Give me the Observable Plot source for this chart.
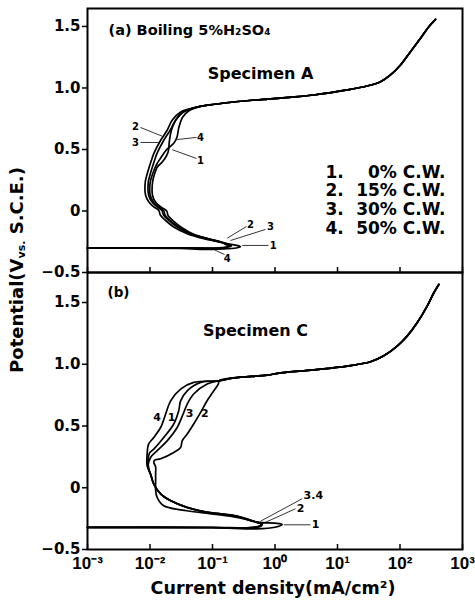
<!DOCTYPE html>
<html><head><meta charset="utf-8">
<script src="https://cdn.jsdelivr.net/npm/d3@7"></script>
<script src="https://cdn.jsdelivr.net/npm/@observablehq/plot@0.6"></script>
<style>
body{margin:0;background:#fff;}
#wrap{position:relative;width:475px;height:601px;font-family:"DejaVu Sans",sans-serif;font-weight:bold;color:#000;overflow:hidden;}
#wrap svg{position:absolute;left:0;overflow:visible;background:transparent;}
.ytitle{position:absolute;left:-183px;top:259px;width:400px;height:22px;line-height:22px;text-align:center;transform:rotate(-90deg);font-size:18px;white-space:nowrap;}
.xtitle{position:absolute;left:73px;top:577px;width:400px;height:22px;line-height:22px;text-align:center;font-size:17.5px;white-space:nowrap;}
sub{font-size:11px;vertical-align:-2px;}
</style></head>
<body><div id="wrap"></div>
<script>
// ---- axis ticks ----
const xTicks = [1e-3, 1e-2, 1e-1, 1, 10, 100, 1000];
const xTickLabels = ["10⁻³", "10⁻²", "10⁻¹", "10⁰", "10¹", "10²", "10³"];
const yTicks = [-0.5, 0, 0.5, 1.0, 1.5];
const yTickLabels = ["−0.5", "0", "0.5", "1.0", "1.5"];

// ---- legend (panel a) ----
const legendNums = ["1.", "2.", "3.", "4."];
const legendText = ["0% C.W.", "15% C.W.", "30% C.W.", "50% C.W."];

// ---- panel (a) Specimen A : [current density mA/cm2, potential V] ----
const aTop = [[0.083,0.86],[0.22,0.886],[0.76,0.91],[1.22,0.918],[4.18,0.943],[14.3,0.984],[29.9,1.016],[48.8,1.051],[70.5,1.106],[102,1.187],[147,1.295],[213,1.404],[289,1.498],[370,1.558]];
const a1 = [[0.001,-0.300],[0.05,-0.302],[0.15,-0.308],[0.24,-0.301],[0.28,-0.291],[0.24,-0.279],[0.17,-0.267],[0.15,-0.260],[0.09,-0.229],[0.05,-0.19],[0.032,-0.134],[0.0235,-0.08],[0.0195,-0.039],[0.0185,0.0],[0.0152,0.029],[0.0124,0.069],[0.011,0.124],[0.011,0.236],[0.0118,0.30],[0.0132,0.36],[0.0148,0.385],[0.017,0.42],[0.0195,0.48],[0.0205,0.575],[0.022,0.656],[0.0257,0.737],[0.034,0.805],[0.058,0.846]];
const a2 = [[0.001,-0.300],[0.03,-0.300],[0.1,-0.303],[0.16,-0.297],[0.2,-0.283],[0.175,-0.266],[0.14,-0.252],[0.08,-0.222],[0.043,-0.183],[0.027,-0.128],[0.0198,-0.074],[0.0165,-0.033],[0.0155,0.005],[0.0129,0.035],[0.0107,0.075],[0.0095,0.13],[0.0094,0.236],[0.0101,0.30],[0.0118,0.41],[0.0129,0.466],[0.0166,0.575],[0.021,0.656],[0.0257,0.737],[0.034,0.805],[0.058,0.846]];
const a3 = [[0.001,-0.300],[0.02,-0.300],[0.08,-0.302],[0.14,-0.298],[0.19,-0.285],[0.17,-0.268],[0.134,-0.254],[0.0726,-0.225],[0.0394,-0.184],[0.024,-0.13],[0.0177,-0.076],[0.0147,-0.035],[0.0138,0.005],[0.0115,0.033],[0.0096,0.073],[0.0085,0.128],[0.0084,0.236],[0.009,0.30],[0.0105,0.41],[0.0115,0.466],[0.0148,0.575],[0.0188,0.656],[0.0226,0.737],[0.031,0.805],[0.058,0.846]];
const a4 = [[0.001,-0.302],[0.03,-0.305],[0.1,-0.312],[0.15,-0.302],[0.18,-0.286],[0.16,-0.27],[0.145,-0.258],[0.085,-0.227],[0.046,-0.187],[0.029,-0.132],[0.021,-0.078],[0.0175,-0.037],[0.0165,0.003],[0.0138,0.031],[0.0114,0.071],[0.0101,0.126],[0.0101,0.236],[0.011,0.30],[0.0128,0.38],[0.0148,0.43],[0.0185,0.50],[0.024,0.55],[0.027,0.60],[0.029,0.68],[0.033,0.76],[0.042,0.815],[0.065,0.85]];

// ---- panel (b) Specimen C ----
const bTop = [[0.126,0.866],[0.22,0.89],[0.75,0.912],[1.22,0.93],[4.18,0.955],[14.3,0.985],[33.7,1.02],[55,1.068],[90,1.147],[130,1.228],[188,1.336],[272,1.471],[348,1.579],[418,1.646]];
const b1 = [[0.001,-0.322],[0.1,-0.323],[0.5,-0.333],[1.0,-0.32],[1.3,-0.297],[1.0,-0.287],[0.52,-0.279],[0.248,-0.232],[0.14,-0.214],[0.082,-0.20],[0.039,-0.16],[0.0213,-0.105],[0.0148,-0.051],[0.0115,0.03],[0.0105,0.09],[0.0096,0.15],[0.0093,0.22],[0.0098,0.28],[0.0115,0.313],[0.0166,0.407],[0.024,0.516],[0.0288,0.623],[0.0309,0.704],[0.0394,0.785],[0.0646,0.853]];
const b2 = [[0.001,-0.321],[0.1,-0.322],[0.4,-0.325],[0.56,-0.312],[0.6,-0.292],[0.52,-0.282],[0.248,-0.24],[0.104,-0.213],[0.039,-0.186],[0.0166,-0.146],[0.013,-0.078],[0.0123,-0.02],[0.0123,0.05],[0.0123,0.12],[0.0123,0.17],[0.0115,0.205],[0.0118,0.222],[0.0148,0.235],[0.024,0.286],[0.0309,0.326],[0.0327,0.38],[0.0394,0.435],[0.05,0.516],[0.0646,0.61],[0.082,0.704],[0.105,0.785],[0.125,0.845]];
const b3 = [[0.001,-0.321],[0.1,-0.322],[0.4,-0.322],[0.58,-0.308],[0.6,-0.29],[0.52,-0.28],[0.248,-0.232],[0.14,-0.213],[0.082,-0.199],[0.039,-0.159],[0.0213,-0.104],[0.0148,-0.05],[0.0115,0.03],[0.0102,0.111],[0.0093,0.17],[0.0102,0.245],[0.013,0.30],[0.0188,0.38],[0.0272,0.488],[0.0339,0.597],[0.0394,0.678],[0.05,0.759],[0.082,0.84]];
const b4 = [[0.001,-0.321],[0.1,-0.322],[0.4,-0.323],[0.6,-0.31],[0.62,-0.292],[0.52,-0.28],[0.248,-0.230],[0.14,-0.212],[0.082,-0.198],[0.039,-0.158],[0.0213,-0.103],[0.0148,-0.049],[0.0115,0.03],[0.0102,0.111],[0.009,0.178],[0.009,0.273],[0.0095,0.353],[0.0115,0.407],[0.0148,0.488],[0.0178,0.597],[0.0214,0.704],[0.0309,0.799],[0.05,0.853]];

// ---- curve annotations (data coordinates) ----
const aNoteText = ["2","3","4","1","2","3","1","4"];
const aNoteX = [0.00586,0.00586,0.0643,0.0643,0.405,0.847,0.936,0.172];
const aNoteY = [0.681,0.551,0.595,0.411,-0.110,-0.132,-0.280,-0.389];
const aLeadX1 = [0.00705,0.00705,0.0555,0.0555,0.35,0.705,0.787,0.156];
const aLeadY1 = [0.679,0.557,0.598,0.427,-0.126,-0.150,-0.280,-0.354];
const aLeadX2 = [0.01567,0.01383,0.0272,0.0227,0.172,0.194,0.299,0.0989];
const aLeadY2 = [0.608,0.557,0.581,0.498,-0.221,-0.240,-0.280,-0.307];
const legendY = [0.315,0.167,0.012,-0.140];

const bNoteText = ["4","1","3","2","3.4","2","1"];
const bNoteX = [0.01303,0.0221,0.0429,0.0753,4.1,2.56,4.45];
const bNoteY = [0.571,0.571,0.604,0.604,-0.06,-0.167,-0.297];
const bLeadX1 = [2.72,2.13,1.38];
const bLeadY1 = [-0.089,-0.170,-0.300];
const bLeadX2 = [0.586,0.624,3.70];
const bLeadY2 = [-0.271,-0.292,-0.300];

// ---- build rows ----
const rows = (list, top) => list.flatMap((c, i) => c.concat(top).map(([x, y]) => ({x, y, id: String(i + 1)})));
const rowsA = rows([a1, a2, a3, a4], aTop);
const rowsB = rows([b1, b2, b3, b4], bTop);
const idx = n => d3.range(n);

const common = {
  width: 475, marginLeft: 87, marginRight: 13,
  style: {fontFamily: "DejaVu Sans", fontWeight: "bold", fontSize: "15px", background: "transparent", overflow: "visible", color: "black"}
};
const yAxis = () => Plot.axisY({ticks: yTicks, tickSize: 5, tickPadding: 2, strokeWidth: 1.5, label: null,
  tickFormat: d => yTickLabels[yTicks.indexOf(d)]});
const xTickMarks = () => Plot.axisX({ticks: xTicks, tickSize: 5, dy: -5, strokeWidth: 1.5, label: null, tickFormat: () => ""});
const curveOpts = {x: "x", y: "y", z: "id", curve: "catmull-rom", stroke: "black", strokeWidth: 1.7};

const plotA = Plot.plot({
  ...common, height: 274, marginTop: 8, marginBottom: 2,
  x: {type: "log", domain: [1e-3, 1e3]},
  y: {domain: [-0.5, 1.646]},
  marks: [
    Plot.line(rowsA, curveOpts),
    Plot.link(idx(aLeadX1.length), {x1: i => aLeadX1[i], y1: i => aLeadY1[i], x2: i => aLeadX2[i], y2: i => aLeadY2[i], stroke: "black", strokeWidth: 0.8}),
    Plot.text(idx(aNoteText.length), {x: i => aNoteX[i], y: i => aNoteY[i], text: i => aNoteText[i], fontSize: 10}),
    Plot.text(["(a) Boiling 5%H₂SO₄"], {x: [0.00217], y: [1.467], text: d => d, textAnchor: "start", fontSize: 14.5}),
    Plot.text(["Specimen A"], {x: [0.586], y: [1.118], text: d => d, fontSize: 16}),
    Plot.text(idx(legendNums.length), {x: () => 6.43, y: i => legendY[i], text: i => legendNums[i], textAnchor: "start", fontSize: 17}),
    Plot.text(idx(legendText.length), {x: () => 535, y: i => legendY[i], text: i => legendText[i], textAnchor: "end", fontSize: 17}),
    Plot.frame({strokeWidth: 2}),
    yAxis(),
    xTickMarks()
  ]
});

const plotB = Plot.plot({
  ...common, height: 331, marginTop: 2, marginBottom: 52,
  x: {type: "log", domain: [1e-3, 1e3]},
  y: {domain: [-0.5, 1.743]},
  marks: [
    Plot.line(rowsB, curveOpts),
    Plot.link(idx(bLeadX1.length), {x1: i => bLeadX1[i], y1: i => bLeadY1[i], x2: i => bLeadX2[i], y2: i => bLeadY2[i], stroke: "black", strokeWidth: 0.8}),
    Plot.text(idx(bNoteText.length), {x: i => bNoteX[i], y: i => bNoteY[i], text: i => bNoteText[i], fontSize: 11}),
    Plot.text(["(b)"], {x: [0.00209], y: [1.583], text: d => d, textAnchor: "start", fontSize: 13.5}),
    Plot.text(["Specimen C"], {x: [0.488], y: [1.273], text: d => d, fontSize: 16}),
    Plot.frame({strokeWidth: 2}),
    yAxis(),
    xTickMarks(),
    Plot.axisX({ticks: xTicks, tickSize: 0, tickPadding: 7, label: null, fontSize: 17, fontFamily: "Liberation Sans",
      tickFormat: d => xTickLabels[xTicks.indexOf(d)]})
  ]
});

const wrap = document.getElementById("wrap");
plotA.style.top = "0px";
plotB.style.top = "270px";
wrap.appendChild(plotA);
wrap.appendChild(plotB);

const yt = document.createElement("div");
yt.className = "ytitle";
yt.innerHTML = "Potential(V<sub>vs.</sub> S.C.E.)";
wrap.appendChild(yt);
const xt = document.createElement("div");
xt.className = "xtitle";
xt.textContent = "Current density(mA/cm²)";
wrap.appendChild(xt);
</script>
</body></html>
